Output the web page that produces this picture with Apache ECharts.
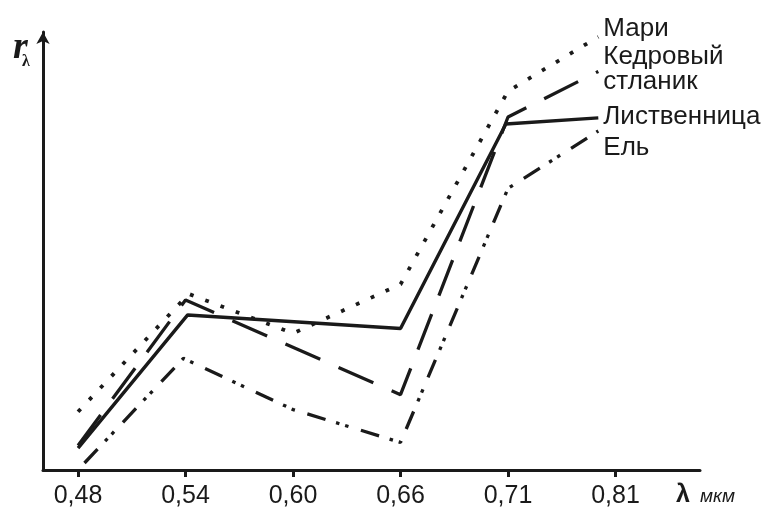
<!DOCTYPE html>
<html>
<head>
<meta charset="utf-8">
<script src="https://cdn.jsdelivr.net/npm/echarts@6/dist/echarts.min.js"></script>
<style>
html,body{margin:0;padding:0;background:#fff;}
#c{width:776px;height:509px;}
</style>
</head>
<body>
<div id="c"></div>
<script>
// Category labels (wavelength, µm) and their positions on the x axis
const categories = ['0,48', '0,54', '0,60', '0,66', '0,71', '0,81'];
const tickPositions = [0, 1, 2, 3, 4, 5];

// Series (x = category position, y = relative reflectance, arbitrary 0..100)
const mariX = [0, 1.03, 2, 3, 4, 4.84];
const mariY = [13.3, 40.2, 31.2, 42.4, 86.5, 98.9];

const kedrX = [0, 1, 3, 4, 4.84];
const kedrY = [5.6, 38.8, 17.2, 80.6, 91.0];

const listX = [0, 1.02, 3, 3.98, 4.84];
const listY = [5.0, 35.4, 32.3, 79.0, 80.4];

const elX = [0.06, 0.98, 2, 3, 4, 4.84];
const elY = [1.6, 25.5, 13.8, 6.3, 64.3, 77.4];

const names = ['Мари', 'Кедровый\nстланик', 'Лиственница', 'Ель'];

function pairs(xs, ys) { return xs.map((x, i) => [x, ys[i]]); }

const INK = '#1a1a1a';
const FONT = '"Liberation Sans", Arial, sans-serif';
const SERIF = '"Liberation Serif", "Times New Roman", serif';

function endLbl(offsetY) {
  return {
    show: true, formatter: '{a}', distance: 5, offset: [0, offsetY],
    color: INK, fontFamily: FONT, fontSize: 26, lineHeight: 25, align: 'left'
  };
}

const chart = echarts.init(document.getElementById('c'), null, {renderer: 'canvas'});
chart.setOption({
  animation: false,
  backgroundColor: '#fff',
  grid: {left: 43, right: 76, top: 32, bottom: 34, containLabel: false},
  xAxis: {
    type: 'value', min: -0.326, max: 5.786,
    splitLine: {show: false},
    axisLine: {show: true, onZero: false, lineStyle: {color: INK, width: 3}},
    axisTick: {show: true, customValues: tickPositions, length: 7, lineStyle: {color: INK, width: 3}},
    axisLabel: {
      show: true, customValues: tickPositions, margin: 14,
      formatter: v => categories[Math.round(v)],
      color: INK, fontFamily: FONT, fontSize: 25
    }
  },
  yAxis: {
    type: 'value', min: 0, max: 100,
    splitLine: {show: false},
    axisTick: {show: false},
    axisLabel: {show: false},
    axisLine: {show: true, onZero: false, symbol: ['none', 'arrow'], symbolSize: [10, 12],
      lineStyle: {color: INK, width: 3}}
  },
  series: [
    {name: names[0], type: 'line', data: pairs(mariX, mariY), symbol: 'none',
      lineStyle: {color: INK, width: 3.8, type: [3.8, 12.5], cap: 'butt'}, endLabel: endLbl(-8)},
    {name: names[1], type: 'line', data: pairs(kedrX, kedrY), symbol: 'none',
      lineStyle: {color: INK, width: 3.3, type: [38, 20], cap: 'butt'}, endLabel: endLbl(-2)},
    {name: names[2], type: 'line', data: pairs(listX, listY), symbol: 'none',
      lineStyle: {color: INK, width: 3.4, type: 'solid'}, endLabel: endLbl(-1)},
    {name: names[3], type: 'line', data: pairs(elX, elY), symbol: 'none',
      lineStyle: {color: INK, width: 3.3, type: [19, 11, 3.5, 6, 3.5, 13], cap: 'butt'}, endLabel: endLbl(17)}
  ],
  graphic: [
    {type: 'text', x: 13, y: 48, style: {text: 'r', fill: INK, fontFamily: SERIF, fontSize: 38, fontWeight: 'bold', fontStyle: 'italic', verticalAlign: 'middle', align: 'left'}},
    {type: 'text', x: 22, y: 62, style: {text: 'λ', fill: INK, fontFamily: SERIF, fontSize: 16, fontWeight: 'bold', verticalAlign: 'middle', align: 'left'}},
    {type: 'text', x: 676, y: 495, style: {text: 'λ', fill: INK, fontFamily: FONT, fontSize: 25, fontWeight: 'bold', verticalAlign: 'middle', align: 'left'}},
    {type: 'text', x: 700, y: 497, style: {text: 'мкм', fill: INK, fontFamily: FONT, fontSize: 19, fontStyle: 'italic', verticalAlign: 'middle', align: 'left'}}
  ]
});
</script>
</body>
</html>
